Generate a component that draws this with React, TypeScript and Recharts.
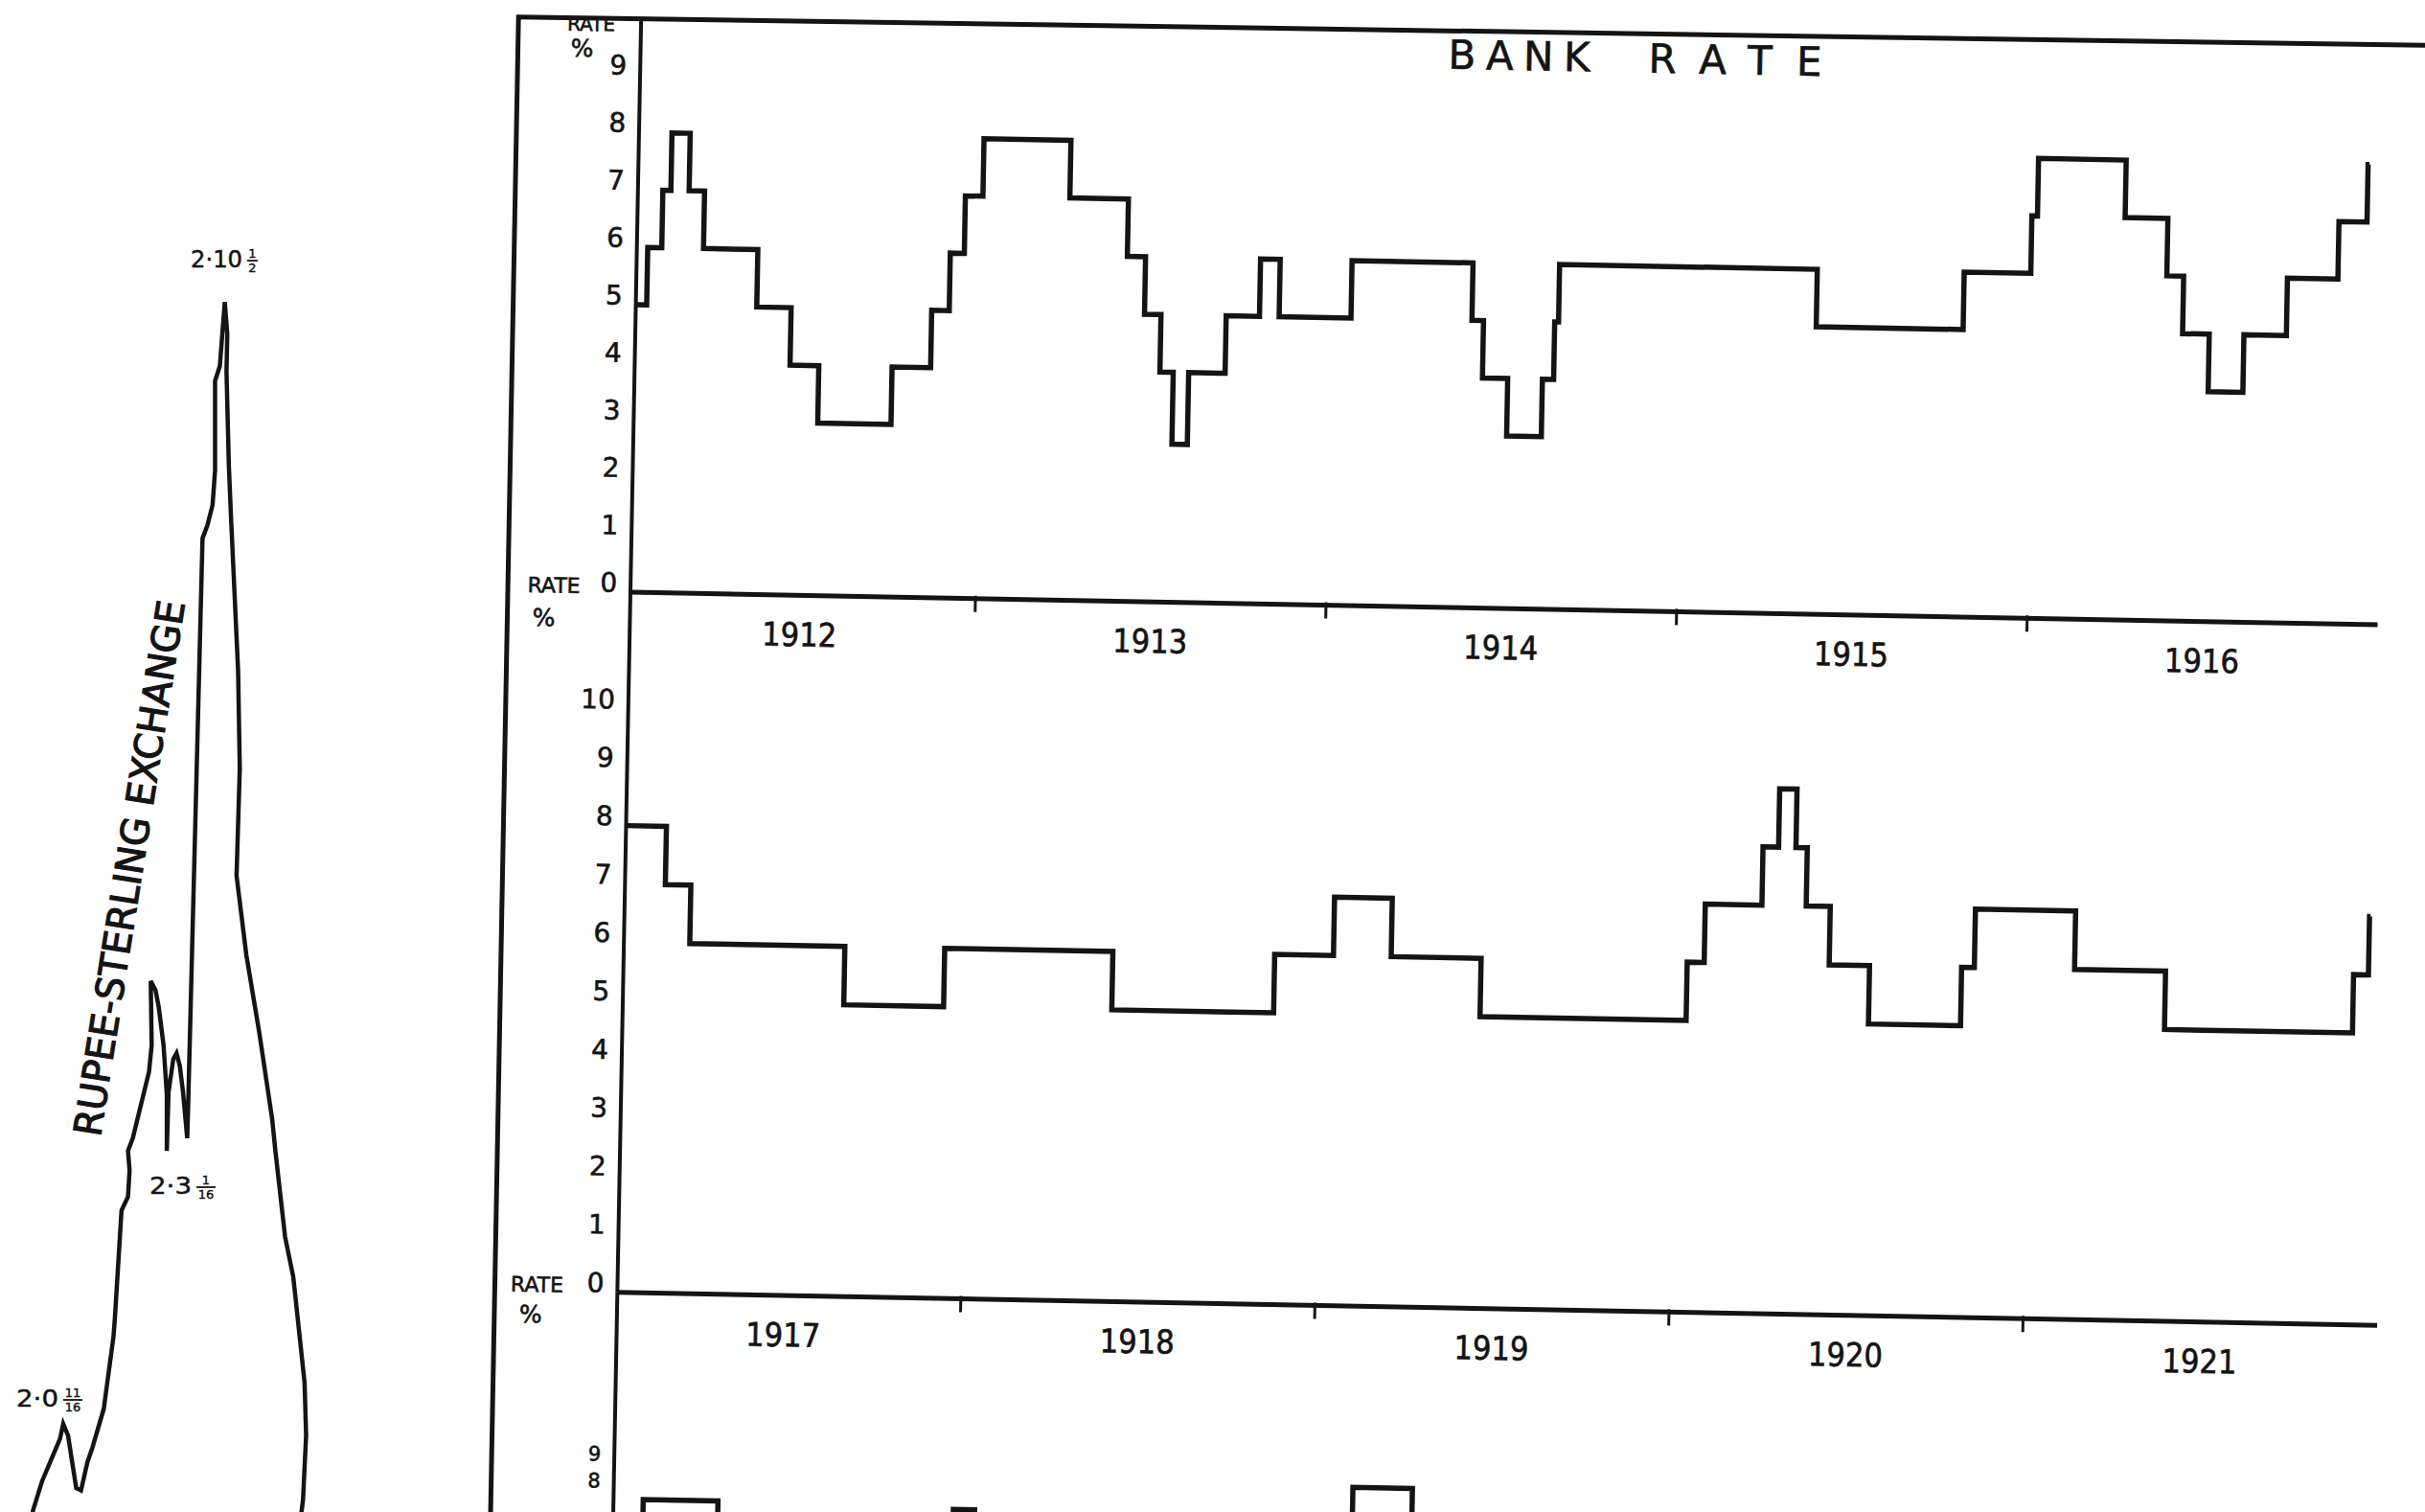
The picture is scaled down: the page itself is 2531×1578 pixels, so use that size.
import { Line, LineChart, XAxis, YAxis } from "recharts";

// Bank rate, 1912-1916 (date of change, rate %)
const topDates = [
  1912.016, 1912.047, 1912.087, 1912.11, 1912.162, 1912.206, 1912.361, 1912.459, 1912.541, 1912.75,
  1912.86, 1912.91, 1912.95, 1913.0, 1913.248, 1913.415, 1913.467, 1913.514, 1913.552, 1913.596,
  1913.7, 1913.795, 1913.851, 1914.056, 1914.401, 1914.434, 1914.506, 1914.605, 1914.637, 1914.648,
  1915.383, 1915.802, 1915.992, 1916.008, 1916.258, 1916.38, 1916.428, 1916.504, 1916.603, 1916.724,
  1916.868, 1916.948, 1916.952
];
const topRates = [
  5, 6, 7, 8, 7, 6, 5, 4, 3, 4,
  5, 6, 7, 8, 7, 6, 5, 4, 2.75, 4,
  5, 6, 5, 6, 5, 4, 3, 4, 5, 6,
  5, 6, 7, 8, 7, 6, 5, 4, 5, 6,
  7, 8, 8
];

// Bank rate, 1917-1921
const midDates = [
  1917.03, 1917.144, 1917.216, 1917.654, 1917.936, 1918.411, 1918.868, 1919.034, 1919.197, 1919.451,
  1920.033, 1920.081, 1920.241, 1920.285, 1920.334, 1920.366, 1920.434, 1920.548, 1920.808, 1920.844,
  1921.127, 1921.384, 1921.915, 1921.957, 1921.96
];
const midRates = [8, 7, 6, 5, 6, 5, 6, 7, 6, 5, 6, 7, 8, 9, 8, 7, 6, 5, 6, 7, 6, 5, 6, 7, 7];

// third panel, only its top edge is on the page
const lowDates = [1922.03, 1922.114, 1922.325, 1922.99, 1923.05, 1924.117, 1924.285, 1925.0];
const lowRates = [6, 7.3, 6, 7.15, 6, 8.25, 6, 6];

const topYears = [1912, 1913, 1914, 1915, 1916];
const midYears = [1917, 1918, 1919, 1920, 1921];
const topRateTicks = [0, 1, 2, 3, 4, 5, 6, 7, 8, 9];
const midRateTicks = [0, 1, 2, 3, 4, 5, 6, 7, 8, 9, 10];
const lowRateTicks = [8, 9];

// rupee-sterling exchange trace (horizontal position, pence)
const exchT = [
  21.0, 27.2, 38.8, 40.9, 44.0, 49.3, 52.4, 56.6, 59.7, 67.1, 73.4, 74.4, 78.6, 82.8, 83.8, 82.8, 85.9,
  96.4, 98.1, 97.5, 100.6, 102.7, 105.8, 107.9, 107.9, 109.0, 112.1, 114.2, 116.3, 118.4, 121.1, 121.6,
  131.0, 134.1, 137.5, 139.1, 139.1, 142.2, 143.8, 145.4, 147.0, 146.5, 148.0, 149.5, 154.0, 155.1,
  153.0, 159.3, 161.4, 167.7, 176.0, 178.2, 184.4, 189.7, 192.8, 197.0, 198.0, 196.0, 195.0
];
const exchPence = [
  23.95, 24.22, 24.59, 24.72, 24.62, 24.16, 24.14, 24.39, 24.51, 24.85, 25.48, 25.66, 26.58, 26.7, 26.93,
  27.1, 27.21, 27.79, 28.02, 28.58, 28.5, 28.35, 28.02, 27.59, 27.1, 27.61, 27.9, 27.95, 27.84, 27.61,
  27.21, 27.44, 32.44, 32.55, 32.73, 33.03, 33.81, 33.94, 34.22, 34.5, 34.22, 33.89, 33.08, 32.6, 31.29,
  30.43, 29.5, 28.81, 28.64, 28.13, 27.38, 27.09, 26.35, 26.0, 25.61, 25.08, 24.62, 24.06, 23.95
];

const INK = "#141414";
const FONT = "'DejaVu Sans', 'Liberation Sans', sans-serif";

function YearTick(props: any) {
  const { x, y, payload } = props;
  const v = payload.value as number;
  if (Number.isInteger(v)) {
    return <line x1={x} x2={x} y1={y - 3} y2={y + 14} stroke={INK} strokeWidth={3} />;
  }
  return (
    <text
      x={x}
      y={y + 53}
      textAnchor="middle"
      fontSize={34}
      fontFamily={FONT}
      fill={INK}
      stroke={INK}
      strokeWidth={0.7}
      textLength={78}
      lengthAdjust="spacingAndGlyphs"
    >
      {Math.floor(v)}
    </text>
  );
}

function RateTick(props: any) {
  const { x, y, payload, shift, size } = props;
  return (
    <text x={x} y={y + shift} textAnchor="end" fontSize={size} fontFamily={FONT} fill={INK} stroke={INK} strokeWidth={0.6}>
      {payload.value}
    </text>
  );
}

type PanelProps = {
  dates: number[];
  rates: number[];
  years: number[];
  rateTicks: number[];
  domainX: [number, number];
  domainY: [number, number];
  plotWidth: number;
  plotHeight: number;
  showYears: boolean;
  tickShift: number;
  tickSize: number;
  left: number;
  top: number;
};

function RatePanel({ dates, rates, years, rateTicks, domainX, domainY, plotWidth, plotHeight, showYears, tickShift, tickSize, left, top }: PanelProps) {
  const data = dates.map((date, i) => ({ date, rate: rates[i] }));
  const xTicks = showYears ? [...years.map((y) => y + 0.5), ...years.slice(1)].sort((a, b) => a - b) : [];
  const axisH = showYears ? 80 : 0;

  return (
    <div style={{ position: "absolute", left: left - 120, top }}>
      <LineChart width={120 + plotWidth} height={plotHeight + axisH} data={data} margin={{ top: 0, right: 0, bottom: 0, left: 0 }}>
        <XAxis
          dataKey="date"
          type="number"
          domain={domainX}
          ticks={xTicks}
          interval={0}
          hide={!showYears}
          height={axisH}
          axisLine={{ stroke: INK, strokeWidth: 5 }}
          tickLine={false}
          tickSize={0}
          tickMargin={0}
          tick={(p: any) => <YearTick {...p} />}
        />
        <YAxis
          type="number"
          domain={domainY}
          ticks={rateTicks}
          interval={0}
          width={120}
          axisLine={{ stroke: INK, strokeWidth: 4 }}
          tickLine={false}
          tickSize={0}
          tickMargin={14}
          tick={(p: any) => <RateTick {...p} shift={tickShift} size={tickSize} />}
        />
        <Line type="stepAfter" dataKey="rate" stroke={INK} strokeWidth={5.5} dot={false} isAnimationActive={false} />
      </LineChart>
    </div>
  );
}

function FracLabel({ x, y, whole, wholeLen, num, den, size }: { x: number; y: number; whole: string; wholeLen: number; num: string; den: string; size: number }) {
  const fw = den.length * 9 + 2;
  const fx = x + wholeLen + 5 + fw / 2;
  return (
    <g fill={INK} fontFamily={FONT}>
      <text x={x} y={y} fontSize={size} textLength={wholeLen} lengthAdjust="spacingAndGlyphs" stroke={INK} strokeWidth={0.5}>
        {whole}
      </text>
      <text x={fx} y={y - 10} fontSize={13} textAnchor="middle" stroke={INK} strokeWidth={0.4}>
        {num}
      </text>
      <line x1={fx - fw / 2} x2={fx + fw / 2} y1={y - 7} y2={y - 7} stroke={INK} strokeWidth={1.8} />
      <text x={fx} y={y + 5} fontSize={13} textAnchor="middle" stroke={INK} strokeWidth={0.4}>
        {den}
      </text>
    </g>
  );
}

export default function App() {
  const exchData = exchT.map((t, i) => ({ t, pence: exchPence[i] }));

  return (
    <div style={{ position: "fixed", left: 0, top: 0, width: 2531, height: 1578, overflow: "hidden", background: "#fff" }}>
      {/* exchange trace */}
      <div style={{ position: "absolute", left: 0, top: 315 }}>
        <LineChart width={355} height={1377} data={exchData} margin={{ top: 0, right: 0, bottom: 0, left: 0 }}>
          <XAxis dataKey="t" type="number" domain={[0, 220]} hide height={0} />
          <YAxis type="number" domain={[23, 34.5]} hide width={0} />
          <Line type="linear" dataKey="pence" stroke={INK} strokeWidth={4.5} dot={false} isAnimationActive={false} />
        </LineChart>
      </div>
      <svg width={420} height={1578} style={{ position: "absolute", left: 0, top: 0 }}>
        <FracLabel x={199} y={279} whole="2·10" wholeLen={54} num="1" den="2" size={24} />
        <FracLabel x={156} y={1246} whole="2·3" wholeLen={44} num="1" den="16" size={25} />
        <FracLabel x={17} y={1468} whole="2·0" wholeLen={44} num="11" den="16" size={25} />
        <text
          transform="translate(135,906) rotate(-81)"
          textAnchor="middle"
          dominantBaseline="central"
          fontSize={40}
          fontFamily={FONT}
          fill={INK}
          stroke={INK}
          strokeWidth={1.2}
          textLength={565}
          lengthAdjust="spacingAndGlyphs"
        >
          RUPEE-STERLING EXCHANGE
        </text>
      </svg>

      {/* bank rate sheet, slightly skewed as on the scan */}
      <div
        style={{
          position: "absolute",
          left: 0,
          top: 0,
          width: 2650,
          height: 1800,
          transformOrigin: "658px 618px",
          transform: "rotate(1.07deg)"
        }}
      >
        <svg width={2650} height={1800} style={{ position: "absolute", left: 0, top: 0 }}>
          <line x1={530} y1={18} x2={530} y2={1800} stroke={INK} strokeWidth={5} />
          <line x1={528} y1={20} x2={2650} y2={12} stroke={INK} strokeWidth={5} />
          <g fill={INK} fontFamily={FONT} stroke={INK} strokeWidth={0.6}>
            <text x={1501} y={56} fontSize={42} textLength={148} lengthAdjust="spacing">BANK</text>
            <text x={1710} y={56} fontSize={42} textLength={181} lengthAdjust="spacing">RATE</text>
            <text x={606} y={33} fontSize={20} textAnchor="middle">RATE</text>
            <text x={597} y={60} fontSize={25} textAnchor="middle">%</text>
            <text x={578} y={620} fontSize={22} textAnchor="middle">RATE</text>
            <text x={568} y={655} fontSize={25} textAnchor="middle">%</text>
            <text x={574} y={1350} fontSize={22} textAnchor="middle">RATE</text>
            <text x={568} y={1382} fontSize={25} textAnchor="middle">%</text>
          </g>
        </svg>

        <RatePanel
          dates={topDates}
          rates={topRates}
          years={topYears}
          rateTicks={topRateTicks}
          domainX={[1912.016, 1917]}
          domainY={[0, 10]}
          plotWidth={1824}
          plotHeight={600}
          showYears
          tickShift={0}
          tickSize={28}
          left={658}
          top={18}
        />
        <RatePanel
          dates={midDates}
          rates={midRates}
          years={midYears}
          rateTicks={midRateTicks}
          domainX={[1917.03, 1922]}
          domainY={[0, 12]}
          plotWidth={1837}
          plotHeight={731}
          showYears
          tickShift={0}
          tickSize={28}
          left={658}
          top={618}
        />
        <RatePanel
          dates={lowDates}
          rates={lowRates}
          years={[]}
          rateTicks={lowRateTicks}
          domainX={[1922.03, 1927]}
          domainY={[0, 15]}
          plotWidth={1837}
          plotHeight={420}
          showYears={false}
          tickShift={8}
          tickSize={21}
          left={658}
          top={1349}
        />
      </div>
    </div>
  );
}
